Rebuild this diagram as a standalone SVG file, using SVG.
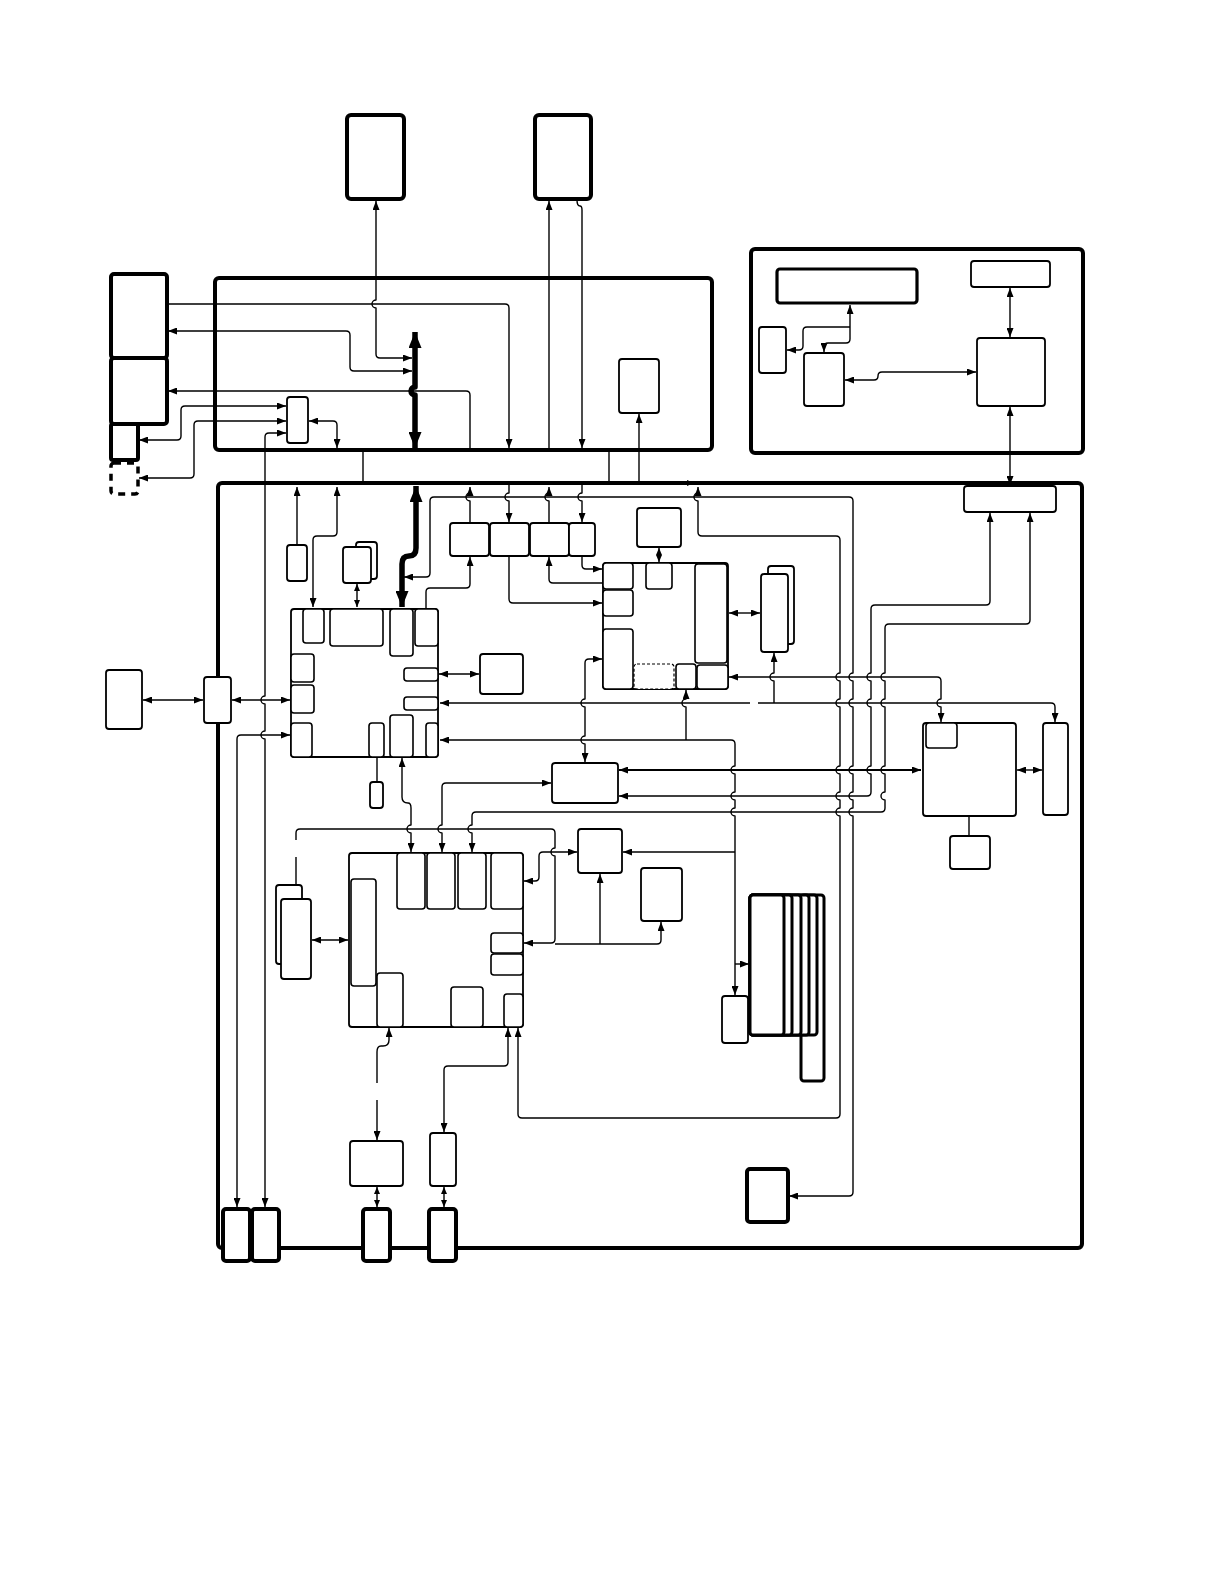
<svg xmlns="http://www.w3.org/2000/svg" width="1220" height="1584" viewBox="0 0 1220 1584">
<style>
.tk{fill:#fff;stroke:#000;stroke-width:4}
.ct{fill:none;stroke:#000;stroke-width:4}
.nd{fill:#fff;stroke:#000;stroke-width:1.8}
.sb{fill:#fff;stroke:#000;stroke-width:1.6}
.dsh{fill:#fff;stroke:#000;stroke-width:1.2;stroke-dasharray:3 2}
.stk{fill:#fff;stroke:#000;stroke-width:3}
.ln{fill:none;stroke:#000;stroke-width:1.4;stroke-linejoin:round}
.ln2{fill:none;stroke:#000;stroke-width:2;stroke-linejoin:round}
.bus{fill:none;stroke:#000;stroke-width:5.5;stroke-linejoin:round}
</style>
<defs>
<marker id="a" viewBox="0 0 9 7" refX="9" refY="3.5" markerWidth="9" markerHeight="7" markerUnits="userSpaceOnUse" orient="auto-start-reverse"><path d="M0,0 L9,3.5 L0,7 z"/></marker>
<marker id="s" viewBox="0 0 7 6" refX="7" refY="3" markerWidth="7" markerHeight="6" markerUnits="userSpaceOnUse" orient="auto-start-reverse"><path d="M0,0 L7,3 L0,6 z"/></marker>
<marker id="b" viewBox="0 0 16 13" refX="16" refY="6.5" markerWidth="16" markerHeight="13" markerUnits="userSpaceOnUse" orient="auto-start-reverse"><path d="M0,0 L16,6.5 L0,13 z"/></marker>
</defs>
<rect width="1220" height="1584" fill="#fff"/>

<g id="n-box1"><rect class="ct" x="215" y="278" width="497" height="172" rx="4"/></g>
<g id="n-main"><rect class="ct" x="218" y="483" width="864" height="765" rx="4"/></g>
<g id="n-R"><rect class="ct" x="751" y="249" width="332" height="204" rx="4"/></g>

<g id="connectors">
<!-- top region / box1 -->
<path class="ln" d="M376,201 V300 a4,4 0 0 0 0,8 V354 Q376,358 380,358 H412" marker-start="url(#a)" marker-end="url(#a)"/>
<path class="ln" d="M168,304 H505 Q509,304 509,308 V448" marker-end="url(#a)"/>
<path class="ln" d="M412,371 H354 Q350,371 350,367 V335 Q350,331 346,331 H168" marker-start="url(#a)" marker-end="url(#a)"/>
<path class="ln" d="M470,450 V395 Q470,391 466,391 H168" marker-end="url(#a)"/>
<path class="bus" d="M415,332 V387 a4,4 0 0 0 0,8 V448" marker-start="url(#b)" marker-end="url(#b)"/>
<path class="ln" d="M139,440 H177 Q181,440 181,436 V410 Q181,406 185,406 H286" marker-start="url(#a)" marker-end="url(#a)"/>
<path class="ln" d="M139,478 H190 Q194,478 194,474 V425 Q194,421 198,421 H286" marker-start="url(#a)" marker-end="url(#a)"/>
<path class="ln" d="M309,421 H333 Q337,421 337,425 V448" marker-start="url(#a)" marker-end="url(#a)"/>
<path class="ln" d="M549,450 V201" marker-end="url(#a)"/>
<path class="ln" d="M577,200 Q577,206 580,206 Q582,206 582,210 V448" marker-end="url(#a)"/>
<path class="ln" d="M639,485 V414" marker-end="url(#a)"/>
<path class="ln" d="M363,452 V481 M609,452 V481"/>
<!-- right box R -->
<path class="ln" d="M850,305 V339 Q850,343 846,343 H828 Q824,343 824,347 V352" marker-start="url(#a)" marker-end="url(#a)"/>
<path class="ln" d="M850,327 H807 Q803,327 803,331 V346 Q803,350 799,350 H787" marker-end="url(#a)"/>
<path class="ln" d="M845,380 H874 Q878,380 878,376 Q878,372 882,372 H976" marker-start="url(#a)" marker-end="url(#a)"/>
<path class="ln" d="M1010,288 V337" marker-start="url(#a)" marker-end="url(#a)"/>
<path class="ln" d="M1010,407 V485" marker-start="url(#a)" marker-end="url(#a)"/>
<!-- bus to top row -->
<path class="ln" d="M684,483 H694" marker-end="url(#s)"/>
<path class="ln" d="M297,544 V487" marker-end="url(#a)"/>
<path class="ln" d="M337,487 V532 Q337,536 333,536 H317 Q313,536 313,540 V607" marker-start="url(#a)" marker-end="url(#a)"/>
<path class="ln" d="M357,584 V607" marker-start="url(#s)" marker-end="url(#s)"/>
<path class="bus" d="M416,486 V548 Q416,556 409,556 Q402,556 402,564 V607" marker-start="url(#b)" marker-end="url(#b)"/>
<path class="ln" d="M470,522 V501 a4,4 0 0 1 0,-8 V487" marker-end="url(#a)"/>
<path class="ln" d="M509,485 V493 a4,4 0 0 0 0,8 V522" marker-end="url(#a)"/>
<path class="ln" d="M549,522 V501 a4,4 0 0 1 0,-8 V487" marker-end="url(#a)"/>
<path class="ln" d="M582,485 V493 a4,4 0 0 0 0,8 V522" marker-end="url(#a)"/>
<path class="ln" d="M404,577 H426 Q430,577 430,573 V501 Q430,497 434,497 H849 Q853,497 853,501 V673 a4,4 0 0 0 0,8 V699 a4,4 0 0 0 0,8 V766 a4,4 0 0 0 0,8 V792 a4,4 0 0 0 0,8 V808 a4,4 0 0 0 0,8 V1192 Q853,1196 849,1196 H789" marker-start="url(#a)" marker-end="url(#a)"/>
<path class="ln" d="M698,487 V493 a4,4 0 0 0 0,8 V532 Q698,536 702,536 H836 Q840,536 840,540 V673 a4,4 0 0 0 0,8 V699 a4,4 0 0 0 0,8 V766 a4,4 0 0 0 0,8 V792 a4,4 0 0 0 0,8 V808 a4,4 0 0 0 0,8 V1114 Q840,1118 836,1118 H522 Q518,1118 518,1114 V1028" marker-start="url(#a)" marker-end="url(#a)"/>
<!-- top row to chips -->
<path class="ln" d="M426,608 V592 Q426,588 430,588 H466 Q470,588 470,584 V557" marker-end="url(#a)"/>
<path class="ln" d="M509,557 V599 Q509,603 513,603 H602" marker-end="url(#a)"/>
<path class="ln" d="M603,583 H553 Q549,583 549,579 V557" marker-end="url(#a)"/>
<path class="ln" d="M582,557 V565 Q582,569 586,569 H602" marker-end="url(#a)"/>
<path class="ln" d="M659,548 V562" marker-start="url(#s)" marker-end="url(#s)"/>
<path class="ln" d="M729,613 H760" marker-start="url(#a)" marker-end="url(#a)"/>
<!-- left side -->
<path class="ln" d="M143,700 H203" marker-start="url(#a)" marker-end="url(#a)"/>
<path class="ln" d="M232,700 H290" marker-start="url(#a)" marker-end="url(#a)"/>
<path class="ln" d="M237,1207 V739 Q237,735 241,735 H290" marker-start="url(#a)" marker-end="url(#a)"/>
<path class="ln" d="M286,433 H269 Q265,433 265,437 V696 a4,4 0 0 0 0,8 V731 a4,4 0 0 0 0,8 V1207" marker-start="url(#a)" marker-end="url(#a)"/>
<!-- chip right side -->
<path class="ln" d="M439,674 H479" marker-start="url(#a)" marker-end="url(#a)"/>
<path class="ln" d="M750,703 H440" marker-end="url(#a)"/>
<path class="ln" d="M758,703 H1051 Q1055,703 1055,707 V722" marker-end="url(#a)"/>
<path class="ln" d="M774,703 V681 a4,4 0 0 1 0,-8 V653" marker-end="url(#a)"/>
<path class="ln" d="M735,995 V816 a4,4 0 0 1 0,-8 V800 a4,4 0 0 1 0,-8 V774 a4,4 0 0 1 0,-8 V744 Q735,740 731,740 H440" marker-start="url(#a)" marker-end="url(#a)"/>
<path class="ln" d="M686,740 V707 a4,4 0 0 1 0,-8 V690" marker-end="url(#a)"/>
<path class="ln" d="M735,852 H623" marker-end="url(#a)"/>
<path class="ln" d="M735,964 H749" marker-end="url(#a)"/>
<path class="ln" d="M602,659 H589 Q585,659 585,663 V699 a4,4 0 0 0 0,8 V736 a4,4 0 0 0 0,8 V762" marker-start="url(#a)" marker-end="url(#a)"/>
<path class="ln" d="M729,677 H937 Q941,677 941,681 V699 a4,4 0 0 0 0,8 V722" marker-start="url(#a)" marker-end="url(#a)"/>
<path class="ln2" d="M619,770 H921" marker-start="url(#a)" marker-end="url(#a)"/>
<path class="ln" d="M619,796 H867 Q871,796 871,792 V774 a4,4 0 0 1 0,-8 V707 a4,4 0 0 1 0,-8 V681 a4,4 0 0 1 0,-8 V609 Q871,605 875,605 H986 Q990,605 990,601 V513" marker-start="url(#a)" marker-end="url(#a)"/>
<path class="ln" d="M472,852 V833 a4,4 0 0 1 0,-8 V816 Q472,812 476,812 H881 Q885,812 885,808 V800 a4,4 0 0 1 0,-8 V774 a4,4 0 0 1 0,-8 V707 a4,4 0 0 1 0,-8 V681 a4,4 0 0 1 0,-8 V628 Q885,624 889,624 H1026 Q1030,624 1030,620 V513" marker-start="url(#a)" marker-end="url(#a)"/>
<path class="ln" d="M551,783 H446 Q442,783 442,787 V825 a4,4 0 0 0 0,8 V852" marker-start="url(#a)" marker-end="url(#a)"/>
<path class="ln" d="M1017,770 H1042" marker-start="url(#a)" marker-end="url(#a)"/>
<path class="ln" d="M969,817 V836"/>
<!-- lower chip -->
<path class="ln" d="M524,943 H551 Q555,943 555,939 V856 a4,4 0 0 1 0,-8 V833 Q555,829 551,829 H300 Q296,829 296,833 V840 M296,857 V898" marker-start="url(#a)" marker-end="url(#a)"/>
<path class="ln" d="M555,944 H657 Q661,944 661,940 V922" marker-end="url(#a)"/>
<path class="ln" d="M600,944 V874" marker-end="url(#a)"/>
<path class="ln" d="M524,881 H535 Q539,881 539,877 V856 Q539,852 543,852 H577" marker-start="url(#a)" marker-end="url(#a)"/>
<path class="ln" d="M312,940 H348" marker-start="url(#a)" marker-end="url(#a)"/>
<path class="ln" d="M402,758 V797 Q402,803 408,803 Q411,803 411,808 V825 a4,4 0 0 0 0,8 V852" marker-start="url(#a)" marker-end="url(#a)"/>
<path class="ln" d="M377,757 V782"/>
<path class="ln" d="M508,1028 V1062 Q508,1066 504,1066 H448 Q444,1066 444,1070 V1132" marker-start="url(#a)" marker-end="url(#a)"/>
<path class="ln" d="M389,1028 V1040 Q389,1046 383,1046 H381 Q377,1046 377,1052 V1083 M377,1100 V1140" marker-start="url(#a)" marker-end="url(#a)"/>
<path class="ln" d="M377,1187 V1207" marker-start="url(#s)" marker-end="url(#s)"/>
<path class="ln" d="M444,1187 V1207" marker-start="url(#s)" marker-end="url(#s)"/>
</g>

<g id="n-T1"><rect class="tk" x="347" y="115" width="57" height="84" rx="4"/></g>
<g id="n-T2"><rect class="tk" x="535" y="115" width="56" height="84" rx="4"/></g>
<g id="n-A"><rect class="tk" x="111" y="274" width="56" height="84" rx="3"/></g>
<g id="n-B"><rect class="tk" x="111" y="358" width="56" height="66" rx="3"/></g>
<g id="n-C"><rect class="tk" x="111" y="424" width="27" height="36" rx="2"/></g>
<g id="n-D"><rect x="111" y="463" width="27" height="31" rx="3" fill="#fff" stroke="#000" stroke-width="3.5" stroke-dasharray="7 6"/></g>
<g id="n-M"><rect class="nd" x="287" y="397" width="21" height="46" rx="3"/></g>
<g id="n-N"><rect class="nd" x="619" y="359" width="40" height="54" rx="3"/></g>

<g id="n-R-wide"><rect x="777" y="269" width="140" height="34" rx="3" fill="#fff" stroke="#000" stroke-width="3.2"/></g>
<g id="n-R-tr"><rect class="nd" x="971" y="261" width="79" height="26" rx="3"/></g>
<g id="n-R-sm"><rect class="nd" x="759" y="327" width="27" height="46" rx="3"/></g>
<g id="n-R-mid"><rect class="nd" x="804" y="353" width="40" height="53" rx="3"/></g>
<g id="n-R-big"><rect class="nd" x="977" y="338" width="68" height="68" rx="3"/></g>

<g id="n-S"><rect class="nd" x="964" y="486" width="92" height="26" rx="3"/></g>
<g id="n-P1"><rect class="nd" x="287" y="545" width="20" height="36" rx="3"/></g>
<g id="n-Q"><rect class="nd" x="356" y="542" width="21" height="37" rx="3"/><rect class="nd" x="343" y="547" width="28" height="36" rx="3"/></g>
<g id="n-b1"><rect class="nd" x="450" y="523" width="39" height="33" rx="3"/></g>
<g id="n-b2"><rect class="nd" x="490" y="523" width="39" height="33" rx="3"/></g>
<g id="n-b3"><rect class="nd" x="530" y="523" width="39" height="33" rx="3"/></g>
<g id="n-b4"><rect class="nd" x="569" y="523" width="26" height="33" rx="3"/></g>
<g id="n-o2"><rect class="nd" x="637" y="508" width="44" height="39" rx="3"/></g>

<g id="n-chip1">
<rect class="nd" x="291" y="609" width="147" height="148" rx="3"/>
<rect class="sb" x="303" y="609" width="21" height="34" rx="3"/>
<rect class="sb" x="330" y="609" width="53" height="37" rx="3"/>
<rect class="sb" x="390" y="609" width="23" height="47" rx="3"/>
<rect class="sb" x="415" y="609" width="23" height="37" rx="3"/>
<rect class="sb" x="291" y="654" width="23" height="28" rx="3"/>
<rect class="sb" x="291" y="685" width="23" height="28" rx="3"/>
<rect class="sb" x="291" y="723" width="21" height="34" rx="3"/>
<rect class="sb" x="369" y="723" width="15" height="34" rx="3"/>
<rect class="sb" x="390" y="715" width="23" height="42" rx="3"/>
<rect class="sb" x="426" y="723" width="12" height="34" rx="3"/>
<rect class="sb" x="404" y="668" width="34" height="13" rx="3"/>
<rect class="sb" x="404" y="697" width="34" height="13" rx="3"/>
</g>
<g id="n-U"><rect class="nd" x="480" y="654" width="43" height="40" rx="3"/></g>

<g id="n-chip2">
<rect class="nd" x="603" y="563" width="125" height="126" rx="3"/>
<rect class="sb" x="603" y="563" width="30" height="26" rx="3"/>
<rect class="sb" x="603" y="590" width="30" height="26" rx="3"/>
<rect class="sb" x="646" y="563" width="26" height="26" rx="3"/>
<rect class="sb" x="695" y="564" width="32" height="99" rx="3"/>
<rect class="sb" x="603" y="629" width="30" height="60" rx="3"/>
<rect class="dsh" x="634" y="664" width="40" height="25" rx="3"/>
<rect class="sb" x="676" y="664" width="20" height="25" rx="3"/>
<rect class="sb" x="697" y="665" width="31" height="24" rx="3"/>
</g>
<g id="n-W"><rect class="nd" x="768" y="566" width="26" height="78" rx="3"/><rect class="nd" x="761" y="574" width="27" height="78" rx="3"/></g>

<g id="n-LL"><rect class="nd" x="106" y="670" width="36" height="59" rx="3"/></g>
<g id="n-LM"><rect class="nd" x="204" y="677" width="27" height="46" rx="3"/></g>

<g id="n-Y"><rect class="nd" x="552" y="763" width="66" height="40" rx="3"/></g>
<g id="n-hh"><rect class="nd" x="370" y="782" width="13" height="26" rx="3"/></g>
<g id="n-V1"><rect class="nd" x="923" y="723" width="93" height="93" rx="3"/><rect class="sb" x="926" y="723" width="31" height="25" rx="3"/></g>
<g id="n-V2"><rect class="nd" x="1043" y="723" width="25" height="92" rx="3"/></g>
<g id="n-V3"><rect class="nd" x="950" y="836" width="40" height="33" rx="3"/></g>

<g id="n-AB"><rect class="nd" x="578" y="829" width="44" height="44" rx="3"/></g>
<g id="n-AA"><rect class="nd" x="641" y="868" width="41" height="53" rx="3"/></g>

<g id="n-stackL"><rect class="nd" x="276" y="885" width="26" height="79" rx="3"/><rect class="nd" x="281" y="899" width="30" height="80" rx="3"/></g>

<g id="n-chip3">
<rect class="nd" x="349" y="853" width="174" height="174" rx="3"/>
<rect class="sb" x="397" y="853" width="28" height="56" rx="3"/>
<rect class="sb" x="427" y="853" width="28" height="56" rx="3"/>
<rect class="sb" x="458" y="853" width="28" height="56" rx="3"/>
<rect class="sb" x="491" y="853" width="32" height="56" rx="3"/>
<rect class="sb" x="351" y="879" width="25" height="107" rx="3"/>
<rect class="sb" x="377" y="973" width="26" height="54" rx="3"/>
<rect class="sb" x="451" y="987" width="32" height="40" rx="3"/>
<rect class="sb" x="504" y="994" width="19" height="33" rx="3"/>
<rect class="sb" x="491" y="933" width="32" height="20" rx="3"/>
<rect class="sb" x="491" y="954" width="32" height="21" rx="3"/>
</g>

<g id="n-X"><rect class="nd" x="722" y="996" width="26" height="47" rx="3"/></g>
<g id="n-stack">
<rect class="stk" x="801" y="895" width="23" height="186" rx="3"/>
<rect class="stk" x="750" y="895" width="67" height="140" rx="3"/>
<rect class="stk" x="750" y="895" width="59" height="140" rx="3"/>
<rect class="stk" x="750" y="895" width="51" height="140" rx="3"/>
<rect class="stk" x="750" y="895" width="42" height="140" rx="3"/>
<rect class="stk" x="750" y="895" width="34" height="140" rx="3"/>
</g>

<g id="n-B3up"><rect class="nd" x="350" y="1141" width="53" height="45" rx="3"/></g>
<g id="n-B4up"><rect class="nd" x="430" y="1133" width="26" height="53" rx="3"/></g>
<g id="n-Z"><rect class="tk" x="747" y="1169" width="41" height="53" rx="3"/></g>
<g id="n-B1"><rect class="tk" x="223" y="1209" width="27" height="52" rx="3"/></g>
<g id="n-B2"><rect class="tk" x="252" y="1209" width="27" height="52" rx="3"/></g>
<g id="n-B3"><rect class="tk" x="363" y="1209" width="27" height="52" rx="3"/></g>
<g id="n-B4"><rect class="tk" x="429" y="1209" width="27" height="52" rx="3"/></g>
</svg>
